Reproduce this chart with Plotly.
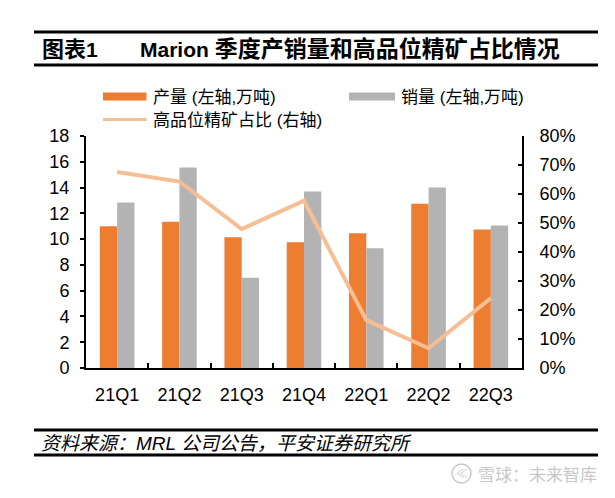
import plotly.graph_objects as go

categories = ["21Q1", "21Q2", "21Q3", "21Q4", "22Q1", "22Q2", "22Q3"]
production = [11.0, 11.35, 10.15, 9.75, 10.45, 12.75, 10.75]
sales = [12.85, 15.55, 7.0, 13.7, 9.3, 14.0, 11.05]
high_grade_share = [0.676, 0.643, 0.479, 0.577, 0.165, 0.068, 0.241]

left_ticks = list(range(0, 19, 2))
right_ticks = [i / 10 for i in range(0, 9)]

ORANGE = "#ED7D31"
GREY = "#B3B3B3"
PEACH = "#F7BE94"
FONT = "Liberation Sans, Arial, Noto Sans CJK SC, sans-serif"

# page body margin offset (browser default 8px)
OFF = 8
W, H = 615 - OFF, 498 - OFF
# plot area in reference (page) pixel coordinates
L, R, T, B = 86, 522, 136, 368


def px(x):
    return (x - L) / (R - L)


def py(y):
    return (B - y) / (B - T)


fig = go.Figure()
fig.add_trace(go.Bar(x=categories, y=production, marker_color=ORANGE,
                     marker_line_width=0, name="产量 (左轴,万吨)"))
fig.add_trace(go.Bar(x=categories, y=sales, marker_color=GREY,
                     marker_line_width=0, name="销量 (左轴,万吨)"))
fig.add_trace(go.Scatter(x=categories, y=high_grade_share, yaxis="y2", mode="lines",
                         line=dict(color=PEACH, width=4), name="高品位精矿占比 (右轴)"))

shapes = []
annotations = []

# rules
for y in [32, 65, 430, 455]:
    shapes.append(dict(type="line", xref="paper", yref="paper", x0=px(34), x1=px(598),
                       y0=py(y), y1=py(y), line=dict(color="black", width=3)))

annotations.append(dict(text="<b><span style='font-size:22px'>图表</span>1</b>", x=px(40), y=py(49),
                        xref="paper", yref="paper",
                        xanchor="left", yanchor="middle", showarrow=False,
                        font=dict(size=21, color="black", family=FONT)))
annotations.append(dict(text="<b>Marion <span style='font-size:23px'>季度产销量和高品位精矿占比情况</span></b>",
                        x=px(138), y=py(49),
                        xref="paper", yref="paper", xanchor="left", yanchor="middle",
                        showarrow=False, font=dict(size=21, color="black", family=FONT)))

# legend
shapes.append(dict(type="rect", xref="paper", yref="paper", x0=px(103), x1=px(146.5),
                   y0=py(92.5), y1=py(100.5), fillcolor=ORANGE, line=dict(width=0)))
shapes.append(dict(type="rect", xref="paper", yref="paper", x0=px(349), x1=px(395),
                   y0=py(92.5), y1=py(100.5), fillcolor=GREY, line=dict(width=0)))
shapes.append(dict(type="line", xref="paper", yref="paper", x0=px(103), x1=px(146.5),
                   y0=py(119.5), y1=py(119.5), line=dict(color=PEACH, width=3)))
for text, x, y in [("产量 (左轴,万吨)", 151, 97), ("销量 (左轴,万吨)", 399, 97),
                   ("高品位精矿占比 (右轴)", 151, 121)]:
    annotations.append(dict(text=text, x=px(x), y=py(y), xref="paper", yref="paper",
                            xanchor="left", yanchor="middle", showarrow=False,
                            font=dict(size=17, color="black", family=FONT)))

# source
annotations.append(dict(text="<i>资料来源：MRL 公司公告，平安证券研究所</i>", x=px(39), y=py(443),
                        xref="paper", yref="paper", xanchor="left", yanchor="middle",
                        showarrow=False, font=dict(size=19, color="black", family=FONT)))

# watermark
shapes.append(dict(type="circle", xref="paper", yref="paper", x0=px(452), x1=px(471),
                   y0=py(464), y1=py(483), line=dict(color="#C8C8C8", width=1.5)))
annotations.append(dict(text="≪", x=px(461.5), y=py(473.5), xref="paper", yref="paper",
                        xanchor="center", yanchor="middle", showarrow=False,
                        font=dict(size=12, color="#C8C8C8", family=FONT)))
annotations.append(dict(text="雪球：未来智库", x=px(476), y=py(473.5), xref="paper", yref="paper",
                        xanchor="left", yanchor="middle", showarrow=False,
                        font=dict(size=17, color="#C8C8C8", family="Noto Sans CJK SC")))

fig.update_layout(
    width=W, height=H,
    margin=dict(l=L - OFF, r=W - (R - OFF), t=T - OFF, b=H - (B - OFF), pad=0),
    paper_bgcolor="white", plot_bgcolor="white",
    showlegend=False,
    barmode="group", bargap=0.445, bargroupgap=0,
    font=dict(family=FONT, color="black", size=18),
    xaxis=dict(type="category", showline=True, linecolor="black", linewidth=2,
               ticks="inside", ticklen=5, tickwidth=1.5, tickcolor="black",
               tickson="boundaries", showgrid=False, tickfont=dict(size=18),
               ticklabelstandoff=9, fixedrange=True),
    yaxis=dict(range=[0, 18], tickvals=left_ticks, showline=True, linecolor="black",
               linewidth=2, ticks="outside", ticklen=4, tickwidth=1.5, tickcolor="black",
               showgrid=False, zeroline=False, tickfont=dict(size=18),
               ticklabelstandoff=7),
    yaxis2=dict(range=[0, 0.8], tickvals=right_ticks, tickformat=".0%", overlaying="y",
                side="right", showline=True, linecolor="black", linewidth=2,
                ticks="inside", ticklen=4, tickwidth=1.5, tickcolor="black",
                showgrid=False, zeroline=False, tickfont=dict(size=18),
                ticklabelstandoff=12),
    shapes=shapes, annotations=annotations,
)

fig.write_html("out.html")
